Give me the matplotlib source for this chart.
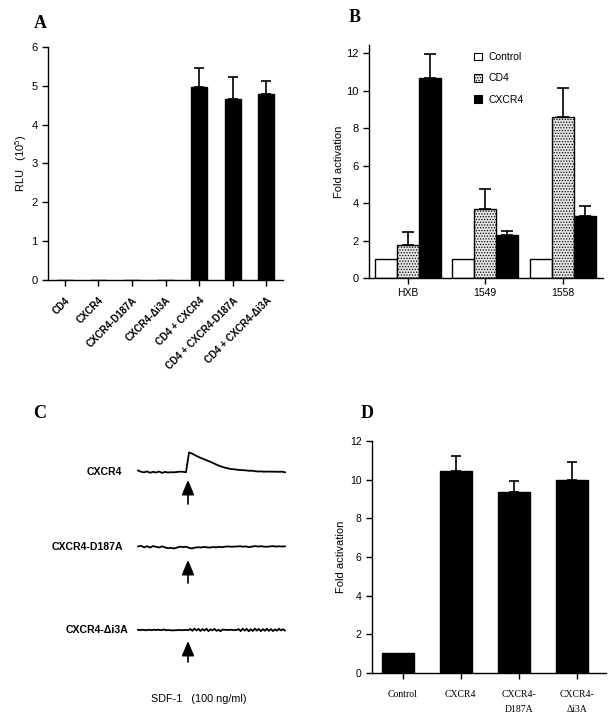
import numpy as np
import matplotlib
matplotlib.use('Agg')
import matplotlib.pyplot as plt
from matplotlib.patches import Patch

plt.rcParams['font.family'] = ['Liberation Sans', 'DejaVu Sans']
plt.rcParams['mathtext.fontset'] = 'custom'
plt.rcParams['mathtext.rm'] = 'Liberation Sans'
plt.rcParams['mathtext.default'] = 'regular'
plt.rcParams['hatch.linewidth'] = 0.6
plt.rcParams['hatch.color'] = '0.3'

# Panel A - RLU (10^5)
a_labels = ['CD4', 'CXCR4', 'CXCR4-D187A', 'CXCR4-Δi3A', 'CD4 + CXCR4',
            'CD4 + CXCR4-D187A', 'CD4 + CXCR4-Δi3A']
a_values = [0.01, 0.01, 0.01, 0.01, 4.97, 4.67, 4.78]
a_err = [0, 0, 0, 0, 0.50, 0.56, 0.34]

# Panel B - fold activation
b_groups = ['HXB', '1549', '1558']
b_control = [1.0, 1.0, 1.0]
b_cd4 = [1.75, 3.69, 8.58]
b_cd4_err = [0.71, 1.07, 1.59]
b_cxcr4 = [10.7, 2.32, 3.33]
b_cxcr4_err = [1.26, 0.21, 0.52]

# Panel C - calcium traces (signal, arbitrary units)
c_names = ['CXCR4', 'CXCR4-D187A', 'CXCR4-Δi3A']
c_cxcr4 = [1.5, 0.3, -0.4, 0.6, -0.8, 0.2, -0.6, 0.5, -0.9, 0.1, -0.5, -0.2, -0.3,
           0.0, 0.4, 0.2, -0.3, 19.5, 18.5, 16.8, 15.3, 14.0, 12.8, 11.6, 10.3, 9.0,
           7.6, 6.3, 5.2, 4.3, 3.6, 3.0, 2.7, 2.3, 2.0, 1.8, 1.6, 1.2, 1.3, 0.8, 0.5,
           0.6, 0.3, 0.4, 0.4, 0.3, 0.3, 0.2, 0.3, -0.3]
c_d187a = [0.5, 1.2, -0.3, 0.8, -0.6, 0.9, 0.2, -0.5, 0.6, -0.4, -1.2, -0.8, -1.5,
           -0.6, 0.4, -0.2, 0.3, -0.9, -1.4, -0.6, -0.2, -0.5, 0.1, -0.3, -0.6, 0.0,
           -0.4, 0.2, -0.2, 0.3, 0.6, 0.2, 0.4, 0.5, 0.8, 0.3, 0.6, -0.2, 0.4, 0.9,
           0.5, 0.8, 0.4, 0.2, 0.6, 0.9, 0.4, 0.7, 0.5, 0.6]
c_di3a = [0.2, -0.2, 0.3, 0.0, -0.3, 0.2, 0.1, -0.2, 0.3, -0.1, 0.4, -0.2, 0.1, 0.5,
          -0.3, 0.0, -0.2, -0.4, -0.3, -0.2, -0.1, 0.0, -0.3, 0.1, 0.0, -0.2,
          1.0, -0.8, 1.4, -0.5, 1.2, -1.0, 0.9, -0.6, 1.3, -1.2, 0.7, -0.4, 1.1, -0.9,
          0.3, -1.3, 0.5, 0.2, 0.1, 0.0, 0.2, 0.1, -0.1, 0.0,
          0.9, -1.1, 1.3, -0.7, 1.2, -1.3, 0.8, -1.0, 1.4, -0.6, 1.1, -1.2, 0.9, -0.8,
          1.3, -0.9, 1.0, -1.1, 0.6, -0.7, 1.2, -0.5, 0.8, -0.6]

# Panel D - fold activation
d_labels = ['Control', 'CXCR4', 'CXCR4-\nD187A', 'CXCR4-\nΔi3A']
d_values = [1.03, 10.47, 9.34, 9.98]
d_err = [0, 0.77, 0.57, 0.93]

W, H = 616, 719
fig = plt.figure(figsize=(W / 100, H / 100), dpi=100)


def px_axes(left, top, right, bottom):
    return fig.add_axes([left / W, 1 - bottom / H, (right - left) / W, (bottom - top) / H])


def style(ax):
    ax.spines['top'].set_visible(False)
    ax.spines['right'].set_visible(False)
    for s in ['left', 'bottom']:
        ax.spines[s].set_linewidth(1.0)
    ax.tick_params(direction='out', length=4, width=1.0, labelsize=8)


def upper_err(ax, x, y, e, capsize):
    x, y, e = np.asarray(x), np.asarray(y), np.asarray(e)
    m = e > 0
    ax.errorbar(x[m], y[m], yerr=[np.zeros(m.sum()), e[m]], fmt='none',
                ecolor='k', elinewidth=1.2, capsize=capsize, capthick=1.2, zorder=1)


# ---- A ----
ax = px_axes(48, 47, 283, 280)
style(ax)
xa = np.arange(len(a_labels))
ax.bar(xa, a_values, width=0.48, color='k', edgecolor='k', zorder=2)
upper_err(ax, xa, a_values, a_err, 3.8)
ax.set_xlim(-0.5, 6.5)
ax.set_ylim(0, 6)
ax.set_yticks(range(0, 7))
ax.set_xticks(xa)
ax.set_xticklabels(a_labels, rotation=45, ha='right', va='top', rotation_mode='anchor',
                   fontsize=7, fontweight='bold')
ax.tick_params(axis='x', pad=7)
ax.set_ylabel('RLU   (10$^{5}$)', fontsize=8, labelpad=2)

# ---- B ----
ax = px_axes(369, 45, 603, 278)
style(ax)
xb = np.arange(len(b_groups))
bw = 0.284
ax.bar(xb - bw, b_control, width=bw, facecolor='white', edgecolor='k', lw=1, zorder=2)
ax.bar(xb, b_cd4, width=bw, facecolor='0.9', edgecolor='k', hatch='......', lw=1, zorder=2)
ax.bar(xb + bw, b_cxcr4, width=bw, facecolor='k', edgecolor='k', lw=1, zorder=2)
upper_err(ax, xb, b_cd4, b_cd4_err, 4.5)
upper_err(ax, xb + bw, b_cxcr4, b_cxcr4_err, 4.5)
ax.set_xlim(-0.5, 2.52)
ax.set_ylim(0, 12.45)
ax.set_yticks(range(0, 13, 2))
ax.set_xticks(xb)
ax.set_xticklabels(b_groups, fontsize=7.5)
ax.set_ylabel('Fold activation', fontsize=8, labelpad=1.5)
handles = [Patch(facecolor='white', edgecolor='k', lw=0.8),
           Patch(facecolor='0.9', edgecolor='k', hatch='......', lw=0.8),
           Patch(facecolor='k', edgecolor='k', lw=0.8)]
fig.legend(handles, ['Control', 'CD4', 'CXCR4'], loc='upper left',
           bbox_to_anchor=(474 / W, 1 - 52 / H), frameon=False, fontsize=7.5,
           handlelength=0.75, handleheight=0.75, handletextpad=0.6, labelspacing=1.1,
           borderpad=0, borderaxespad=0)

# ---- C ----
axc = fig.add_axes([0, 0, 300 / W, 330 / H])
axc.set_xlim(0, 300)
axc.set_ylim(719, 389)
axc.axis('off')
baselines = [472, 547, 630]
arrows = [(188, 480, 504), (188, 560, 583), (188, 641, 662)]
label_x = [122, 123, 128]
for trace, base, name, lx, (ax_x, tip, tail) in zip([c_cxcr4, c_d187a, c_di3a], baselines,
                                                    c_names, label_x, arrows):
    t = np.linspace(138, 285, len(trace))
    axc.plot(t, base - np.asarray(trace), color='k', lw=1.3)
    axc.text(lx, base, name, ha='right', va='center', fontsize=7.6, fontweight='bold')
    axc.annotate('', xy=(ax_x, tip), xytext=(ax_x, tail),
                 arrowprops=dict(arrowstyle='-|>,head_length=0.9,head_width=0.38',
                                 color='k', lw=1.2, mutation_scale=10,
                                 shrinkA=0, shrinkB=0))
axc.text(199, 699, 'SDF-1   (100 ng/ml)', ha='center', va='center', fontsize=7.8)

# ---- D ----
ax = px_axes(372, 441, 606, 673)
style(ax)
xd = np.arange(len(d_labels))
ax.bar(xd - 0.086, d_values, width=0.55, color='k', edgecolor='k', zorder=2)
upper_err(ax, xd - 0.086, d_values, d_err, 3.8)
ax.set_xlim(-0.53, 3.5)
ax.set_ylim(0, 12)
ax.set_yticks(range(0, 13, 2))
ax.tick_params(axis='y', labelsize=7.5)
ax.set_xticks(xd)
ax.set_xticklabels(d_labels, fontsize=7, family='Liberation Serif', linespacing=1.9)
ax.tick_params(axis='x', pad=8)
ax.set_ylabel('Fold activation', fontsize=8, labelpad=2.5)

# panel letters
for letter, (lx, ly) in zip('ABCD', [(40, 23), (355, 18), (40, 413), (367, 413)]):
    fig.text(lx / W, 1 - ly / H, letter, ha='center', va='center', fontsize=13,
             fontweight='bold', family='Liberation Serif')

fig.savefig('out.png', dpi=100)
